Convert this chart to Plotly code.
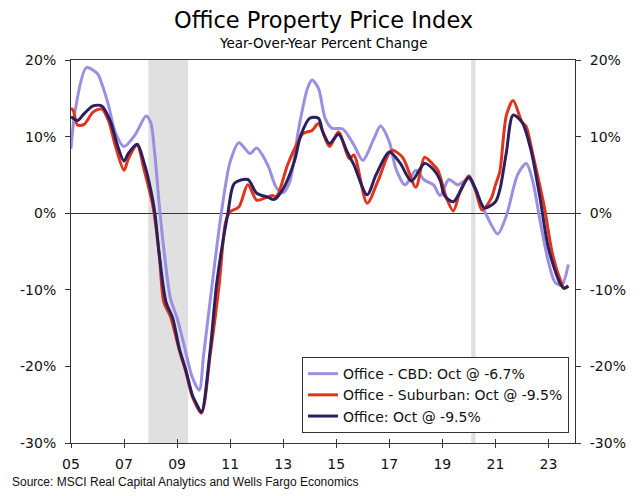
import plotly.graph_objects as go

# ---------------- data ----------------
cbd_dates = ["2005-01","2005-03","2005-08","2006-01","2006-03","2006-06","2006-09","2007-01","2007-06","2007-11",
             "2008-01","2008-03","2008-05","2008-07","2008-10","2009-01","2009-04","2009-08","2009-11","2010-01",
             "2010-05","2010-09","2011-01","2011-05","2011-10","2012-01","2012-06","2012-10","2013-01","2013-04",
             "2013-08","2013-12","2014-02","2014-05","2014-08","2014-11","2015-04","2015-09","2016-01","2016-06",
             "2016-09","2017-01","2017-04","2017-08","2017-10","2018-01","2018-05","2018-09","2018-12","2019-04",
             "2019-08","2020-01","2020-05","2020-09","2021-02","2021-06","2021-11","2022-03","2022-06","2022-09",
             "2023-01","2023-04","2023-07","2023-10"]
cbd_values = [8.4,13.5,19.0,18.2,16.9,14.1,10.6,8.7,10.2,12.7,
              11.9,7.6,1.0,-4.6,-11.1,-13.7,-17.0,-21.5,-23.1,-18.5,
              -9.1,0.0,6.7,9.2,7.8,8.5,6.3,3.3,2.7,4.1,
              11.0,16.3,17.4,16.3,12.4,11.1,11.0,8.9,6.9,9.7,
              11.4,9.3,5.8,3.7,4.3,5.6,4.3,3.7,2.3,4.4,
              3.7,4.5,2.3,-0.3,-2.7,-0.3,5.0,6.5,4.1,-0.7,
              -6.4,-9.0,-9.4,-6.7]

sub_dates = ["2005-01","2005-02","2005-04","2005-07","2005-11","2006-03","2006-06","2006-09","2007-01","2007-03",
             "2007-07","2007-10","2008-02","2008-05","2008-07","2008-10","2009-02","2009-05","2009-08","2009-12",
             "2010-04","2010-08","2010-11","2011-01","2011-05","2011-09","2012-01","2012-04","2012-08","2012-10",
             "2013-03","2013-07","2013-10","2014-02","2014-05","2014-10","2015-02","2015-07","2015-09","2016-03",
             "2016-08","2017-02","2017-07","2018-01","2018-05","2018-09","2018-11","2019-03","2019-06","2019-09",
             "2020-01","2020-04","2020-07","2020-11","2021-01","2021-03","2021-06","2021-09","2022-01","2022-03",
             "2022-06","2022-11","2023-03","2023-07","2023-08","2023-10"]
sub_values = [13.7,13.4,11.5,11.6,13.2,13.6,12.1,8.9,5.6,7.1,
              8.9,5.8,1.0,-5.5,-11.6,-13.5,-17.9,-20.7,-24.0,-26.1,
              -18.5,-9.5,-1.1,0.2,0.8,3.7,1.7,1.9,2.3,2.2,
              6.3,8.9,10.4,10.8,11.7,8.7,10.6,7.1,7.6,1.3,
              4.3,8.2,7.3,3.4,7.3,6.3,5.6,1.9,0.3,2.8,
              4.9,3.0,0.4,1.9,3.7,5.4,12.8,14.7,11.9,11.3,
              7.6,1.0,-5.5,-9.2,-9.8,-9.5]

off_dates = ["2005-01","2005-04","2005-07","2005-11","2006-03","2006-07","2006-10","2007-01","2007-03","2007-07",
             "2007-10","2008-01","2008-03","2008-05","2008-08","2008-11","2009-02","2009-05","2009-08","2009-10",
             "2009-12","2010-04","2010-07","2010-12","2011-03","2011-09","2012-01","2012-06","2012-09","2013-01",
             "2013-06","2013-09","2014-01","2014-05","2014-07","2014-10","2015-02","2015-06","2015-09","2016-03",
             "2016-07","2017-01","2017-06","2017-11","2018-05","2018-09","2018-12","2019-02","2019-06","2020-01",
             "2020-04","2020-08","2021-01","2021-03","2021-06","2021-09","2022-01","2022-05","2022-09","2023-01",
             "2023-06","2023-08","2023-10"]
off_values = [12.6,12.1,13.0,14.0,14.0,11.9,8.9,6.8,7.8,9.0,
              6.7,3.2,0.0,-5.5,-11.6,-13.7,-17.7,-20.5,-23.8,-25.0,
              -26.0,-17.9,-9.1,0.0,3.9,4.4,2.6,2.1,1.8,3.2,
              6.7,10.2,12.4,12.4,10.6,9.1,10.3,8.0,6.3,2.4,
              5.0,8.0,6.5,4.2,6.5,5.7,4.3,2.3,1.5,4.7,
              3.2,0.7,1.5,3.0,8.0,12.8,11.9,8.4,2.3,-4.6,
              -9.0,-9.8,-9.5]

series_names = ["Office - CBD: Oct @ -6.7%", "Office - Suburban: Oct @ -9.5%", "Office: Oct @ -9.5%"]
series_colors = ["#9b8fe3", "#e0341c", "#2b1f5e"]

recession_starts = ["2007-12-01", "2020-02-01"]
recession_ends = ["2009-06-01", "2020-04-01"]

y_ticks = [-30, -20, -10, 0, 10, 20]
y_tick_labels = ["-30%", "-20%", "-10%", "0%", "10%", "20%"]

x_range = ["2005-01-01", "2024-01-01"]

# ---------------- figure ----------------
fig = go.Figure()

for d, v, name, col in [(cbd_dates, cbd_values, series_names[0], series_colors[0]),
                        (sub_dates, sub_values, series_names[1], series_colors[1]),
                        (off_dates, off_values, series_names[2], series_colors[2])]:
    fig.add_trace(go.Scatter(x=[s + "-01" for s in d], y=v, mode="lines", name=name,
                             line=dict(color=col, width=3, shape="spline", smoothing=0.8)))

# invisible trace to carry the overlay axes (right-hand y axis, inside x ticks)
fig.add_trace(go.Scatter(x=[x_range[0]], y=[0], xaxis="x2", yaxis="y2", mode="lines",
                         showlegend=False, hoverinfo="skip", line=dict(color="rgba(0,0,0,0)")))

for s, e in zip(recession_starts, recession_ends):
    fig.add_shape(type="rect", xref="x", yref="paper", x0=s, x1=e, y0=0, y1=1,
                  fillcolor="#e0e0e0", line=dict(width=0), layer="below")

axis_font = dict(family="DejaVu Sans", size=14, color="#111111")
line_col = "#333333"

fig.update_layout(
    width=640, height=496,
    margin=dict(l=57, r=73, t=52, b=61),
    paper_bgcolor="white", plot_bgcolor="white",
    showlegend=True,
    legend=dict(x=0.988, y=0.026, xanchor="right", yanchor="bottom",
                bgcolor="white", bordercolor=line_col, borderwidth=1,
                font=dict(family="DejaVu Sans", size=14, color="#111111"),
                tracegroupgap=0, itemwidth=30),
    xaxis=dict(type="date", range=x_range, tick0="2005-01-01", dtick="M24", tickformat="%y",
               showgrid=False, showline=True, linecolor=line_col, linewidth=1, mirror=True,
               ticks="outside", ticklen=4, tickcolor=line_col, tickfont=axis_font,
               ticklabelstandoff=4, zeroline=False),
    xaxis2=dict(type="date", range=x_range, tick0="2005-01-01", dtick="M24", overlaying="x",
                anchor="y", side="bottom", showgrid=False, showline=False, showticklabels=False,
                ticks="inside", ticklen=4, tickcolor=line_col, zeroline=False),
    yaxis=dict(range=[-30, 20], tickvals=y_ticks, ticktext=y_tick_labels,
               showgrid=False, showline=True, linecolor=line_col, linewidth=1,
               ticks="outside", ticklen=5, tickcolor=line_col, tickfont=axis_font,
               ticklabelstandoff=6,
               zeroline=True, zerolinecolor=line_col, zerolinewidth=1),
    yaxis2=dict(range=[-30, 20], tickvals=y_ticks, ticktext=y_tick_labels, overlaying="y", side="right",
                anchor="x", showgrid=False, showline=True, linecolor=line_col, linewidth=1,
                ticks="outside", ticklen=5, tickcolor=line_col, tickfont=axis_font,
                ticklabelstandoff=6, zeroline=False),
    annotations=[
        dict(text="Office Property Price Index", xref="paper", yref="paper", x=0.5, y=1.104,
             xanchor="center", yanchor="middle", showarrow=False,
             font=dict(family="DejaVu Sans", size=22.5, color="#000000")),
        dict(text="Year-Over-Year Percent Change", xref="paper", yref="paper", x=0.5, y=1.044,
             xanchor="center", yanchor="middle", showarrow=False,
             font=dict(family="DejaVu Sans", size=13.5, color="#000000")),
        dict(text="Source: MSCI Real Capital Analytics and Wells Fargo Economics", xref="paper", yref="paper",
             x=-0.122, y=-0.102, xanchor="left", yanchor="middle", showarrow=False,
             font=dict(family="Liberation Sans", size=12, color="#111111")),
    ],
)

fig.write_html("out.html")
